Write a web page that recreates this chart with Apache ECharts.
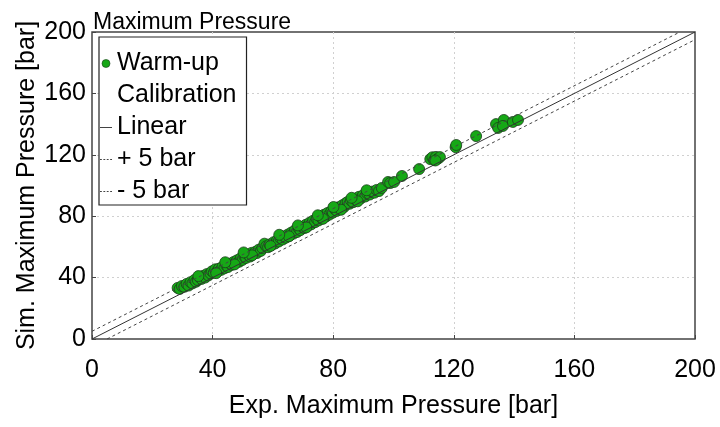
<!DOCTYPE html>
<html>
<head>
<meta charset="utf-8">
<script src="https://cdn.jsdelivr.net/npm/echarts@6/dist/echarts.min.js"></script>
<style>
  html, body { margin: 0; padding: 0; background: #fff; }
  #chart { width: 720px; height: 427px; }
</style>
</head>
<body>
<div id="chart"></div>
<script>
// Experimental vs simulated peak cylinder pressure (bar)
const expPressure = [
  28.4, 29.1, 29.8, 30.6, 31.4, 32.0, 32.7, 33.3, 34.0, 34.5,
  35.1, 35.7, 36.3, 36.9, 37.5, 38.1, 38.6, 39.3, 39.8, 40.4,
  40.9, 41.5, 42.1, 42.8, 43.3, 43.9, 44.6, 45.1, 45.8, 46.4,
  47.0, 47.5, 48.1, 48.8, 49.3, 49.9, 50.6, 51.1, 51.8, 52.4,
  52.9, 53.5, 54.2, 54.7, 55.3, 56.0, 56.5, 57.2, 57.8, 58.4,
  58.9, 59.6, 60.2, 60.7, 61.4, 61.9, 62.5, 63.2, 63.8, 64.3,
  65.0, 65.6, 66.1, 66.8, 67.3, 68.0, 68.6, 69.1, 69.8, 70.4,
  70.9, 71.5, 72.2, 72.7, 73.3, 74.0, 74.5, 75.1, 75.8, 76.3,
  76.9, 77.6, 78.1, 78.7, 79.4, 79.9, 80.5, 81.2, 81.7, 82.3,
  83.0, 83.6, 84.1, 84.8, 85.4, 85.9, 86.6, 87.2, 87.8, 88.5,
  89.1, 89.9, 90.6, 91.3, 92.1, 92.9, 93.7, 94.4, 95.2, 96.1,
  41.2, 47.3, 53.1, 59.2, 65.3, 71.1, 76.6, 82.6, 88.1,
  35.3, 44.2, 50.3, 62.1, 68.3, 74.9, 80.1, 86.1, 91.1,
  98.2, 98.9, 100.2, 102.8, 108.5,
  112.2, 112.9, 113.5, 114.1, 114.7, 115.4, 113.9,
  120.6, 120.8, 127.4, 134.0, 134.7, 136.6, 136.3, 139.6, 141.3
];
const simPressure = [
  33.3, 32.6, 34.5, 34.0, 35.9, 34.8, 37.0, 36.2, 38.5, 37.3,
  38.4, 40.3, 39.1, 41.2, 40.0, 42.3, 41.4, 42.7, 44.1, 43.2,
  45.4, 44.2, 45.8, 45.0, 47.1, 46.0, 47.9, 46.9, 49.1, 48.3,
  50.2, 49.4, 51.3, 50.3, 52.6, 51.5, 53.7, 52.8, 54.9, 53.7,
  56.1, 55.3, 56.8, 56.0, 58.2, 57.4, 59.3, 62.1, 60.4, 59.8,
  61.6, 61.2, 63.0, 62.2, 64.3, 63.5, 65.7, 64.8, 66.9, 66.0,
  68.1, 67.4, 69.3, 68.6, 70.8, 69.7, 72.0, 70.9, 73.1, 72.3,
  74.4, 73.6, 75.8, 74.7, 77.0, 76.1, 78.3, 77.2, 79.6, 78.5,
  80.9, 79.8, 82.1, 81.0, 83.4, 82.3, 84.7, 83.5, 85.8, 84.9,
  87.1, 86.0, 88.4, 89.3, 88.1, 90.2, 89.1, 91.4, 90.3, 92.6,
  91.5, 93.7, 92.8, 94.9, 94.1, 96.0, 95.3, 97.1, 96.4, 98.4,
  42.9, 48.6, 54.5, 60.6, 66.9, 72.7, 78.3, 84.2, 89.7,
  41.0, 50.0, 56.4, 67.9, 74.0, 80.6, 86.0, 92.0, 96.9,
  102.3, 101.6, 102.3, 106.2, 110.7,
  117.2, 118.4, 116.6, 118.6, 117.4, 118.5, 116.3,
  125.0, 126.4, 132.2, 140.0, 137.5, 142.7, 138.8, 141.4, 142.7
];

// Reference lines: y = x and a +/- 5 bar band
const linearLine = [[0, 0], [200, 200]];
const plusFiveLine = [[0, 5], [195, 200]];
const minusFiveLine = [[5, 0], [200, 195]];

const axisTicks = [0, 40, 80, 120, 160, 200];

const FONT = '"Liberation Sans", Arial, Helvetica, sans-serif';
const LINE_COLOR = '#333';
const DASH_COLOR = '#444';

// legend glyphs: a thin solid bar and a dotted bar
const solidIcon = 'path://M0,0h13v1h-13z';
const dashIcon = 'path://M0,0h2v1h-2zM3.67,0h2v1h-2zM7.33,0h2v1h-2zM11,0h2v1h-2z';
const blankIcon = 'path://M0,0h1v1h-1z';

const chart = echarts.init(document.getElementById('chart'), null, { renderer: 'canvas' });

const axisCommon = {
  type: 'value',
  min: axisTicks[0],
  max: axisTicks[axisTicks.length - 1],
  interval: axisTicks[1] - axisTicks[0],
  axisLine: { show: false },
  axisTick: { show: true, inside: true, length: 4, lineStyle: { color: '#444', width: 1 } },
  splitLine: {
    show: true, showMinLine: false, showMaxLine: false,
    lineStyle: { color: '#d0d0d0', type: [2, 3], width: 1 }
  },
  nameLocation: 'middle',
  nameMoveOverlap: false,
  nameTextStyle: { fontFamily: FONT, fontSize: 25, color: '#000' }
};

chart.setOption({
  animation: false,
  backgroundColor: '#fff',
  title: {
    text: 'Maximum Pressure',
    left: 93,
    top: 11,
    padding: 0,
    textStyle: { fontFamily: FONT, fontSize: 23, fontWeight: 'normal', color: '#000' }
  },
  grid: {
    left: 92, right: 25, top: 32, bottom: 88,
    show: true, borderColor: '#444', borderWidth: 1.5, backgroundColor: 'transparent'
  },
  legend: {
    orient: 'vertical',
    left: 99,
    top: 37,
    padding: [11, 10, -2, 1],
    itemGap: 1,
    itemWidth: 12,
    itemHeight: 8,
    borderColor: '#222',
    borderWidth: 1.2,
    backgroundColor: '#fff',
    textStyle: { fontFamily: FONT, fontSize: 25, color: '#000', lineHeight: 31 },
    data: [
      { name: 'Warm-up', icon: 'circle',
        itemStyle: { color: '#16a816', borderColor: '#1b3d1b', borderWidth: 0.6 } },
      { name: 'Calibration', icon: blankIcon,
        itemStyle: { color: 'rgba(0,0,0,0)', borderWidth: 0 } },
      { name: 'Linear', icon: solidIcon,
        itemStyle: { color: LINE_COLOR, borderWidth: 0 } },
      { name: '+ 5 bar', icon: dashIcon,
        itemStyle: { color: DASH_COLOR, borderWidth: 0 } },
      { name: '- 5 bar', icon: dashIcon,
        itemStyle: { color: DASH_COLOR, borderWidth: 0 } }
    ]
  },
  xAxis: Object.assign({}, axisCommon, {
    name: 'Exp. Maximum Pressure [bar]',
    nameGap: 55,
    axisLabel: { fontFamily: FONT, fontSize: 25, color: '#000', margin: 19 }
  }),
  yAxis: Object.assign({}, axisCommon, {
    name: 'Sim. Maximum Pressure [bar]',
    nameGap: 52,
    axisLabel: { fontFamily: FONT, fontSize: 25, color: '#000', margin: 6 }
  }),
  series: [
    {
      // warm-up calibration runs; the legend splits the label over two rows
      name: 'Warm-up',
      type: 'scatter',
      symbol: 'circle',
      symbolSize: 11,
      z: 2,
      itemStyle: { color: '#16a816', borderColor: '#1b3d1b', borderWidth: 0.8, opacity: 1 },
      data: expPressure.map((x, i) => [x, simPressure[i]])
    },
    {
      name: 'Calibration',
      type: 'scatter',
      data: []
    },
    {
      name: 'Linear',
      type: 'line',
      symbol: 'none',
      z: 3,
      itemStyle: { color: LINE_COLOR },
      lineStyle: { color: LINE_COLOR, width: 1, type: 'solid' },
      data: linearLine
    },
    {
      name: '+ 5 bar',
      type: 'line',
      symbol: 'none',
      z: 3,
      itemStyle: { color: DASH_COLOR },
      lineStyle: { color: DASH_COLOR, width: 1, type: [3, 3] },
      data: plusFiveLine
    },
    {
      name: '- 5 bar',
      type: 'line',
      symbol: 'none',
      z: 3,
      itemStyle: { color: DASH_COLOR },
      lineStyle: { color: DASH_COLOR, width: 1, type: [3, 3] },
      data: minusFiveLine
    }
  ]
});
</script>
</body>
</html>
